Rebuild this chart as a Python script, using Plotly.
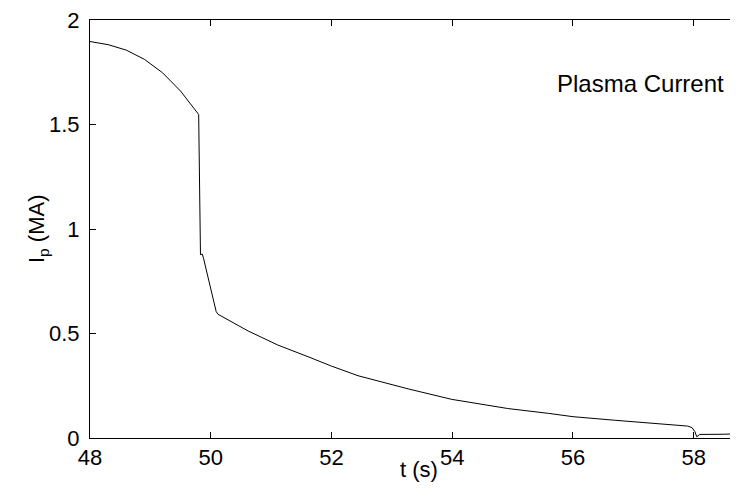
import plotly.graph_objects as go

t_s = [48.0, 48.3, 48.6, 48.9, 49.2, 49.5, 49.80, 49.83, 49.86, 49.88, 50.09, 50.12,
       50.62, 51.11, 51.61, 52.0, 52.44, 53.27, 53.99, 54.92, 55.59, 56.0, 56.69, 57.5,
       57.9, 57.97, 58.02, 58.05, 58.10, 58.5, 58.87]
ip_MA = [1.897, 1.882, 1.856, 1.812, 1.748, 1.66, 1.548, 0.877, 0.88, 0.86, 0.605, 0.592,
         0.512, 0.445, 0.389, 0.344, 0.298, 0.235, 0.185, 0.141, 0.118, 0.102, 0.085, 0.068,
         0.057, 0.05, 0.03, 0.006, 0.017, 0.018, 0.022]
x_ticks = [48, 50, 52, 54, 56, 58]
y_ticks = [0, 0.5, 1, 1.5, 2]
y_tick_text = ["0", "0.5", "1", "1.5", "2"]

FONT = "Liberation Sans, Arial, sans-serif"

fig = go.Figure(go.Scatter(x=t_s, y=ip_MA, mode="lines",
                           line=dict(color="black", width=1), showlegend=False))

fig.update_layout(
    width=738, height=490,
    margin=dict(l=82, r=0, t=12, b=60),
    paper_bgcolor="white", plot_bgcolor="white",
    font=dict(family=FONT, size=22, color="black"),
    xaxis=dict(range=[48, 58.866], tickvals=x_ticks, ticks="inside", ticklen=6,
               tickcolor="black", showline=True, linecolor="black", linewidth=1,
               mirror="ticks", showgrid=False, zeroline=False,
               ticklabeloverflow="allow", tickfont=dict(size=22)),
    yaxis=dict(range=[0, 2], tickvals=y_ticks, ticktext=y_tick_text, ticks="inside",
               ticklen=6, tickcolor="black", showline=True, linecolor="black",
               linewidth=1, showgrid=False, zeroline=False, ticklabelstandoff=5,
               ticklabeloverflow="allow", tickfont=dict(size=22)),
    annotations=[
        dict(text="Plasma Current", xref="paper", yref="paper", x=(718 - 82) / 656,
             y=(429.5 - 75) / 417.5, xanchor="right", yanchor="middle", showarrow=False,
             font=dict(size=24)),
        dict(text="t (s)", xref="paper", yref="paper", x=(411 - 82) / 656,
             y=(429.5 - 461) / 417.5, xanchor="center", yanchor="middle", showarrow=False,
             font=dict(size=22)),
        dict(text="I<sub>p</sub> (MA)", xref="paper", yref="paper", x=(30 - 82) / 656,
             y=0.5, xanchor="center", yanchor="middle", textangle=-90, showarrow=False,
             font=dict(size=22)),
    ],
)

fig.write_html("out.html")
